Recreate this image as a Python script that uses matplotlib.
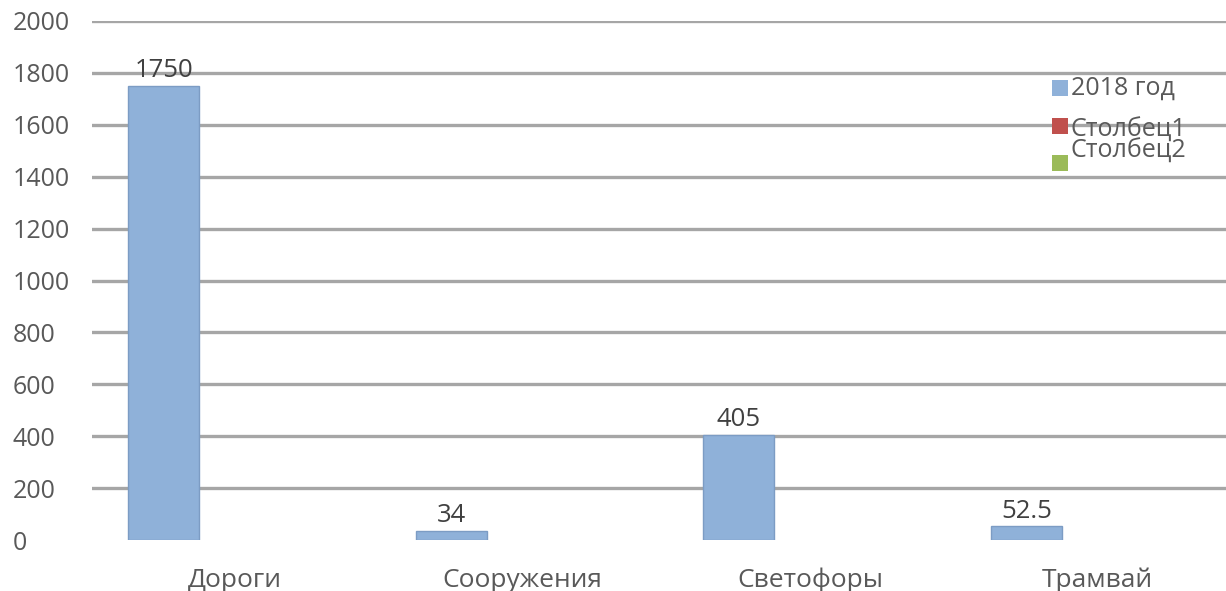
import matplotlib.pyplot as plt
from matplotlib.patches import Rectangle
import numpy as np

categories = ['Дороги', 'Сооружения', 'Светофоры', 'Трамвай']
values_2018 = [1750, 34, 405, 52.5]
value_labels = ['1750', '34', '405', '52.5']
series_names = ['2018 год', 'Столбец1', 'Столбец2']
series_colors = ['#8fb1d9', '#c0504d', '#9bbb59']
yticks = [0, 200, 400, 600, 800, 1000, 1200, 1400, 1600, 1800, 2000]

plt.rcParams['font.family'] = ['Open Sans', 'DejaVu Sans']
text_color = '#595959'

fig = plt.figure(figsize=(12.26, 5.91), dpi=100)
ax = fig.add_axes([92 / 1226, 51 / 591, 1134 / 1226, 519 / 591])

x = np.arange(len(categories))
w = 0.248
ax.bar(x - w, values_2018, width=w, color=series_colors[0],
       edgecolor='#7c9cc4', linewidth=1, zorder=3)
for xi, v, lab in zip(x, values_2018, value_labels):
    ax.annotate(lab, (xi - w, v), xytext=(0, 2), textcoords='offset points',
                ha='center', va='bottom', fontsize=18.5, color='#404040', zorder=4)

ax.set_xlim(-0.497, 3.446)
ax.set_ylim(0, 2000)
ax.set_yticks(yticks)
ax.set_xticks(x)
ax.set_xticklabels(categories, fontsize=19)
for t in yticks[1:]:
    ax.axhline(t, color='#a6a6a6', linewidth=2.4, zorder=1)

for s in ax.spines.values():
    s.set_visible(False)
ax.tick_params(axis='both', length=0, colors=text_color)
ax.tick_params(axis='y', labelsize=18, pad=57)
ax.tick_params(axis='x', pad=20)
for lab in ax.get_yticklabels():
    lab.set_horizontalalignment('left')

# legend, drawn by hand to keep Excel's odd spacing
leg_y = [88, 126, 163]
text_y = [88, 130, 151]
for name, col, yy, ty in zip(series_names, series_colors, leg_y, text_y):
    fig.patches.append(Rectangle((1052 / 1226, 1 - (yy + 8) / 591), 16 / 1226, 16 / 591,
                                 transform=fig.transFigure, facecolor=col,
                                 edgecolor='none', zorder=5))
    fig.text(1071 / 1226, 1 - ty / 591, name, fontsize=18, color=text_color,
             va='center', ha='left', zorder=6)

fig.savefig('out.png', dpi=100, facecolor='white')
